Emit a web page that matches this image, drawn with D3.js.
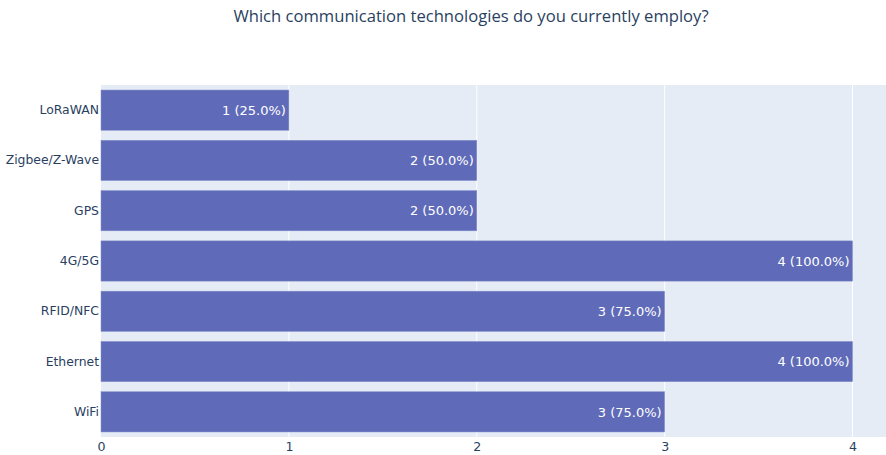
<!DOCTYPE html>
<html>
<head>
<meta charset="utf-8">
<script src="https://cdn.jsdelivr.net/npm/d3@7"></script>
<style>
  body { margin: 0; background: #fff; }
  svg { font-family: "DejaVu Sans", Verdana, sans-serif; }
</style>
</head>
<body>
<div id="chart"></div>
<script>
const width = 886;
const height = 455;

// Data (top to bottom as displayed)
const technologies = ["LoRaWAN", "Zigbee/Z-Wave", "GPS", "4G/5G", "RFID/NFC", "Ethernet", "WiFi"];
const counts = [1, 2, 2, 4, 3, 4, 3];
const percents = [25.0, 50.0, 50.0, 100.0, 75.0, 100.0, 75.0];
const xTicks = [0, 1, 2, 3, 4];

const margin = { top: 85, left: 101, bottom: 437 };
const plotRight = 892; // plot runs just past the window edge

const svg = d3.select("#chart")
    .append("svg")
    .attr("width", width)
    .attr("height", height);

const xScale = d3.scaleLinear()
    .domain([0, 4.21])
    .range([margin.left, plotRight]);

const yScale = d3.scaleBand()
    .domain(technologies)
    .range([margin.top, margin.bottom])
    .paddingInner(0.2)
    .paddingOuter(0.1);

// Plot background
svg.append("rect")
    .attr("x", margin.left)
    .attr("y", margin.top)
    .attr("width", plotRight - margin.left)
    .attr("height", margin.bottom - margin.top)
    .attr("fill", "#e5ecf6");

// Vertical gridlines
svg.append("g")
    .selectAll("line")
    .data(xTicks.slice(1))
    .enter()
    .append("line")
    .attr("x1", d => xScale(d))
    .attr("x2", d => xScale(d))
    .attr("y1", margin.top)
    .attr("y2", margin.bottom)
    .attr("stroke", "#fff")
    .attr("stroke-width", 1);

// Bars
svg.append("g")
    .selectAll("rect")
    .data(technologies)
    .enter()
    .append("rect")
    .attr("x", xScale(0))
    .attr("y", d => yScale(d))
    .attr("width", (d, i) => xScale(counts[i]) - xScale(0))
    .attr("height", yScale.bandwidth())
    .attr("fill", "#5f6bb9")
    .attr("stroke", "#8590cc")
    .attr("stroke-width", 0.5);

// Bar labels
svg.append("g")
    .selectAll("text")
    .data(technologies)
    .enter()
    .append("text")
    .attr("x", (d, i) => xScale(counts[i]) - 3)
    .attr("y", d => yScale(d) + yScale.bandwidth() / 2)
    .attr("dy", "0.36em")
    .attr("text-anchor", "end")
    .attr("fill", "#fff")
    .style("font-size", "13px")
    .text((d, i) => `${counts[i]} (${percents[i].toFixed(1)}%)`);

// X axis labels
const xAxis = svg.append("g")
    .attr("transform", `translate(0, ${margin.bottom})`)
    .call(d3.axisBottom(xScale).tickValues(xTicks).tickFormat(d3.format("d")).tickSize(0).tickPadding(5));
xAxis.select(".domain").remove();
xAxis.selectAll("text")
    .attr("fill", "#2a3f5f")
    .style("font-size", "12.6px")
    .style("font-family", "'DejaVu Sans', sans-serif");

// Y axis labels
const yAxis = svg.append("g")
    .attr("transform", `translate(${margin.left}, 0)`)
    .call(d3.axisLeft(yScale).tickSize(0).tickPadding(2));
yAxis.select(".domain").remove();
yAxis.selectAll("text")
    .attr("fill", "#2a3f5f")
    .style("font-size", "12.4px")
    .style("font-family", "'DejaVu Sans', sans-serif");

// Title
svg.append("text")
    .attr("x", 471)
    .attr("y", 22)
    .attr("text-anchor", "middle")
    .attr("fill", "#2a3f5f")
    .style("font-size", "16.6px")
    .style("font-family", "'Open Sans', sans-serif")
    .text("Which communication technologies do you currently employ?");
</script>
</body>
</html>
